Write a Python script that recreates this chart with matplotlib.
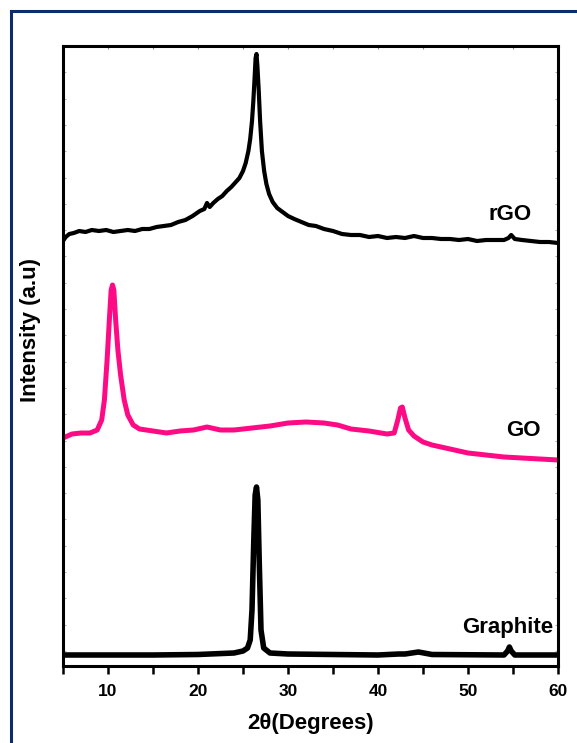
import matplotlib
matplotlib.use("Agg")
import matplotlib.pyplot as plt
from matplotlib.lines import Line2D

plt.rcParams['font.family'] = ['Liberation Sans', 'DejaVu Sans']

# 2theta (degrees) and intensity (a.u.)
rgo_x = [5, 5.3, 5.7, 6.2, 6.8, 7.5, 8.2, 9, 9.8, 10.6, 11.4, 12.2, 13, 13.8, 14.6, 15.4, 16.2, 17,
         17.8, 18.6, 19.4, 20.2, 20.7, 21, 21.3, 21.7, 22.2, 22.7, 23.2, 23.7, 24.2, 24.6, 25, 25.3,
         25.6, 25.8, 26.0, 26.15, 26.3, 26.4, 26.5, 26.6, 26.75, 26.9, 27.1, 27.35, 27.6, 27.9, 28.3,
         28.8, 29.4, 30, 30.7, 31.5, 32.3, 33.1, 34, 35, 36, 37, 38, 39, 40, 41, 42, 43, 44, 45, 46,
         47, 48, 49, 50, 51, 52, 53, 54, 54.5, 54.8, 55.2, 56, 57, 58, 59, 60]
rgo_y = [425, 429, 432, 433, 435, 434, 436, 435, 436, 434, 435, 436, 435, 437, 437, 439, 440, 441,
         444, 446, 450, 455, 457, 463, 459, 463, 467, 470, 475, 479, 484, 488, 495, 503,
         515, 527, 545, 565, 590, 608, 612, 600, 575, 545, 515, 495, 482, 472, 464,
         458, 454, 450, 447, 444, 441, 440, 437, 435, 432, 431, 431, 429, 430, 428, 429, 428, 430, 428, 428,
         427, 427, 426, 427, 425, 426, 426, 426, 428, 431, 427, 426, 425, 424, 424, 423]

go_x = [5, 6, 7, 8, 8.8, 9.3, 9.6, 9.9, 10.15, 10.35, 10.5, 10.65, 10.85, 11.1, 11.4, 11.8, 12.2,
        12.8, 13.5, 15, 16.5, 18, 19.5, 21, 22.5, 24, 26, 28, 30, 32, 34, 35.5, 37, 39, 41, 41.8,
        42.2, 42.5, 42.7, 43.0, 43.4, 44, 45, 46, 48, 50, 52, 54, 56, 58, 60]
go_y = [228, 232, 233, 233, 236, 246, 266, 306, 346, 376, 381, 376, 346, 316, 291, 266, 251,
        241, 237, 235, 233, 235, 236, 239, 236, 236, 238, 240, 243, 244, 243, 241, 237, 235, 232, 233,
        246, 258, 259, 248, 236, 230, 224, 221, 217, 213, 211, 209, 208, 207, 206]

gr_x = [5, 10, 15, 20, 24, 25, 25.5, 25.8, 26.0, 26.2, 26.35, 26.5, 26.65, 26.8, 27.0, 27.3, 28,
        30, 40, 42.3, 43, 44.5, 46, 54, 54.4, 54.6, 54.8, 55.2, 60]
gr_y = [11, 11, 11, 11.5, 13, 15, 18, 26, 56, 126, 171, 179, 166, 106, 36, 18, 13,
        12, 11, 12, 12, 14, 11.5, 11, 15, 19, 15, 11, 11]

labels = ["rGO", "GO", "Graphite"]
x_ticks = [10, 20, 30, 40, 50, 60]

fig = plt.figure(figsize=(5.77, 7.43), dpi=100)
ax = fig.add_axes([63/577, 77/743, 495/577, 620/743])

ax.plot(rgo_x, rgo_y, color='black', lw=3.0, solid_joinstyle='round')
ax.plot(go_x, go_y, color='#ff0a85', lw=3.6, solid_joinstyle='round')
ax.plot(gr_x, gr_y, color='black', lw=4.0, solid_joinstyle='round')

ax.set_xlim(5, 60)
ax.set_ylim(0, 620)
ax.set_xticks(x_ticks)
ax.set_xticks([5, 15, 25, 35, 45, 55], minor=True)
ax.set_yticks([620 - 26.3 * k for k in range(1, 24)])
ax.set_yticklabels([])

for s in ax.spines.values():
    s.set_linewidth(2.2)

ax.tick_params(axis='x', which='both', direction='out', length=6, width=1.8,
               top=False, labelsize=12.5, pad=7)
ax.tick_params(axis='y', which='both', direction='in', length=2.5, width=0.8,
               color='#b0b0b0', left=True, right=True)
for lab in ax.get_xticklabels():
    lab.set_fontweight('bold')

# top ticks inward
secx = ax.secondary_xaxis('top')
secx.set_xticks([5, 10, 15, 20, 25, 30, 35, 40, 45, 50, 55, 60])
secx.set_xticklabels([])
secx.tick_params(direction='in', length=2.5, width=0.8, color='#888888')
secx.spines['top'].set_visible(False)

ax.set_xlabel('2θ(Degrees)', fontsize=16, fontweight='bold', labelpad=10)
ax.set_ylabel('Intensity (a.u)', fontsize=16, fontweight='bold')
ax.yaxis.set_label_coords(-0.044, 0.542)

ax.text(54.7, 451, labels[0], fontsize=16, fontweight='bold', ha='center', va='center')
ax.text(56.2, 236, labels[1], fontsize=16, fontweight='bold', ha='center', va='center')
ax.text(54.4, 38, labels[2], fontsize=16, fontweight='bold', ha='center', va='center')

# outer frame (left and top edges)
fig.add_artist(Line2D([11.5/577, 11.5/577], [0, 1 - 10.5/743], transform=fig.transFigure,
                      color='#0b2d6b', lw=2.2))
fig.add_artist(Line2D([11.5/577, 1], [1 - 10.5/743, 1 - 10.5/743], transform=fig.transFigure,
                      color='#0b2d6b', lw=2.2))

fig.savefig('out.png', dpi=100)
